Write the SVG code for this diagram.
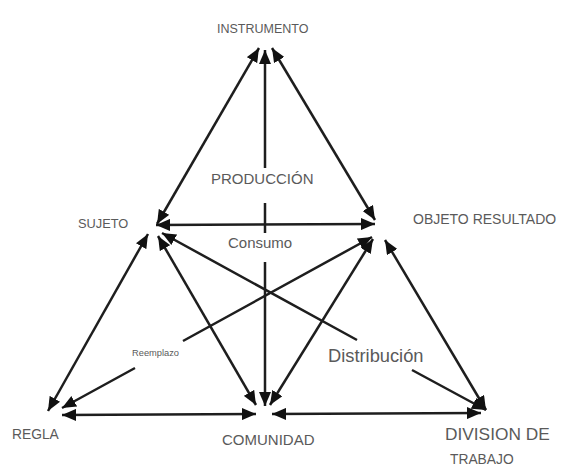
<svg xmlns="http://www.w3.org/2000/svg" width="584" height="466" viewBox="0 0 584 466">
<defs>
<marker id="ah" viewBox="0 0 14 12" refX="14" refY="6" markerWidth="14" markerHeight="12" markerUnits="userSpaceOnUse" orient="auto-start-reverse">
<path d="M0,0 L14,6 L0,12 Z" fill="#111"/>
</marker>
</defs>
<style>
.c{fill:none;stroke:#1e1e1e;stroke-width:2.5;marker-start:url(#ah);marker-end:url(#ah)}
.t{font-family:"Liberation Sans",Arial,sans-serif;fill:#5a5a5a}
</style>
<rect width="584" height="466" fill="#fff"/>
<g id="connectors">
<path class="c" d="M157,224 L259,48"/>
<path class="c" d="M265,50 L265,168 M265,203 L265,233 M265,262 L265,406"/>
<path class="c" d="M272,48 L375,220"/>
<path class="c" d="M156,225 L375,224"/>
<path class="c" d="M148,234 L48,411"/>
<path class="c" d="M158,236 L256,405"/>
<path class="c" d="M162,233 L357,340 M412,370 L486,410"/>
<path class="c" d="M372,237 L183,341 M135,368 L62,408"/>
<path class="c" d="M373,239 L270,405"/>
<path class="c" d="M385,240 L486,410"/>
<path class="c" d="M62,415 L256,414"/>
<path class="c" d="M272,414 L481,413"/>
</g>
<g id="instrumento"><text class="t" x="217" y="33" font-size="12.5">INSTRUMENTO</text></g>
<g id="sujeto"><text class="t" x="78" y="228" font-size="12.8">SUJETO</text></g>
<g id="objeto"><text class="t" x="413" y="224" font-size="14">OBJETO RESULTADO</text></g>
<g id="regla"><text class="t" x="12" y="439" font-size="13.8">REGLA</text></g>
<g id="comunidad"><text class="t" x="222" y="445" font-size="15">COMUNIDAD</text></g>
<g id="division"><text class="t" x="445" y="440" font-size="17.3">DIVISION DE</text><text class="t" x="450" y="464" font-size="13.8">TRABAJO</text></g>
<g id="produccion"><text class="t" x="211" y="184" font-size="15">PRODUCCIÓN</text></g>
<g id="consumo"><text class="t" x="228" y="248" font-size="15">Consumo</text></g>
<g id="distribucion"><text class="t" x="328" y="362" font-size="18.3">Distribución</text></g>
<g id="reemplazo"><text class="t" x="132" y="356" font-size="9.3">Reemplazo</text></g>
</svg>
